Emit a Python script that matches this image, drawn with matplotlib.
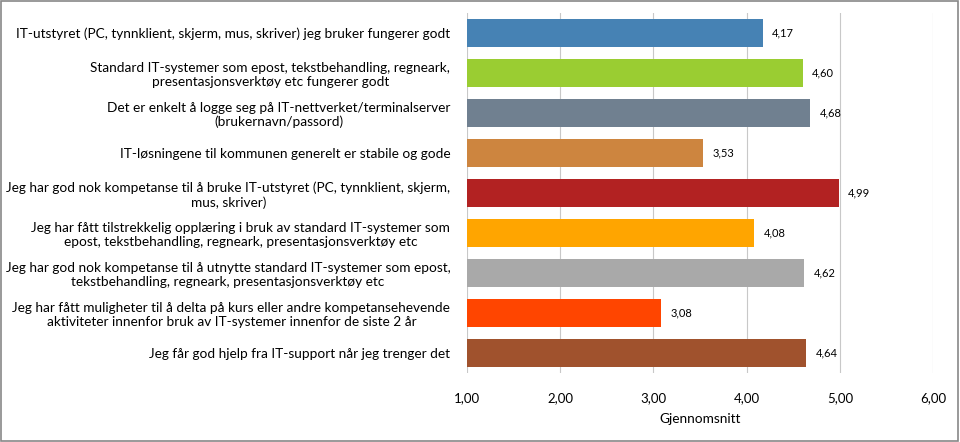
import matplotlib.pyplot as plt
from matplotlib.patches import Rectangle

plt.rcParams['font.family'] = ['Lato', 'DejaVu Sans']

categories = [
    'IT-utstyret (PC, tynnklient, skjerm, mus, skriver) jeg bruker fungerer godt',
    'Standard IT-systemer som epost, tekstbehandling, regneark,\npresentasjonsverktøy etc fungerer godt',
    'Det er enkelt å logge seg på IT-nettverket/terminalserver\n(brukernavn/passord)',
    'IT-løsningene til kommunen generelt er stabile og gode',
    'Jeg har god nok kompetanse til å bruke IT-utstyret (PC, tynnklient, skjerm,\nmus, skriver)',
    'Jeg har fått tilstrekkelig opplæring i bruk av standard IT-systemer som\nepost, tekstbehandling, regneark, presentasjonsverktøy etc',
    'Jeg har god nok kompetanse til å utnytte standard IT-systemer som epost,\ntekstbehandling, regneark, presentasjonsverktøy etc',
    'Jeg har fått muligheter til å delta på kurs eller andre kompetansehevende\naktiviteter innenfor bruk av IT-systemer innenfor de siste 2 år',
    'Jeg får god hjelp fra IT-support når jeg trenger det',
]
values = [4.17, 4.60, 4.68, 3.53, 4.99, 4.08, 4.62, 3.08, 4.64]
colors = ['#4682B4', '#9ACD32', '#708090', '#CD853F', '#B22222',
          '#FFA500', '#A9A9A9', '#FF4500', '#A0522D']
xticks = [1, 2, 3, 4, 5, 6]

fig = plt.figure(figsize=(9.6, 4.42), dpi=100)
ax = fig.add_axes([0.4865, 0.156, 0.4855, 0.815])

y = list(range(len(values)))
ax.barh(y, [v - 1 for v in values], left=1, height=0.7, color=colors, zorder=2)
for yi, v in zip(y, values):
    ax.text(v + 0.1, yi, f'{v:.2f}'.replace('.', ','), va='center', ha='left', fontsize=8)

ax.set_xlim(1, 6)
ax.set_ylim(len(values) - 0.5, -0.5)
ax.set_xticks(xticks)
ax.set_xticklabels([f'{t:.2f}'.replace('.', ',') for t in xticks], fontsize=9.5)
ax.set_yticks(y)
ax.set_yticklabels(categories, fontsize=9.8, multialignment='center')
ax.tick_params(axis='x', length=0, pad=14)
ax.tick_params(axis='y', length=0, pad=12)
ax.grid(axis='x', color='#C8C8C8', linewidth=0.8, zorder=0)
for s in ax.spines.values():
    s.set_visible(False)
ax.set_xlabel('Gjennomsnitt', fontsize=9.8, labelpad=6)

fig.patches.append(Rectangle((0.001, 0.002), 0.997, 0.995, transform=fig.transFigure,
                             fill=False, edgecolor='#888888', linewidth=1.2))

fig.savefig('out.png', dpi=100)
